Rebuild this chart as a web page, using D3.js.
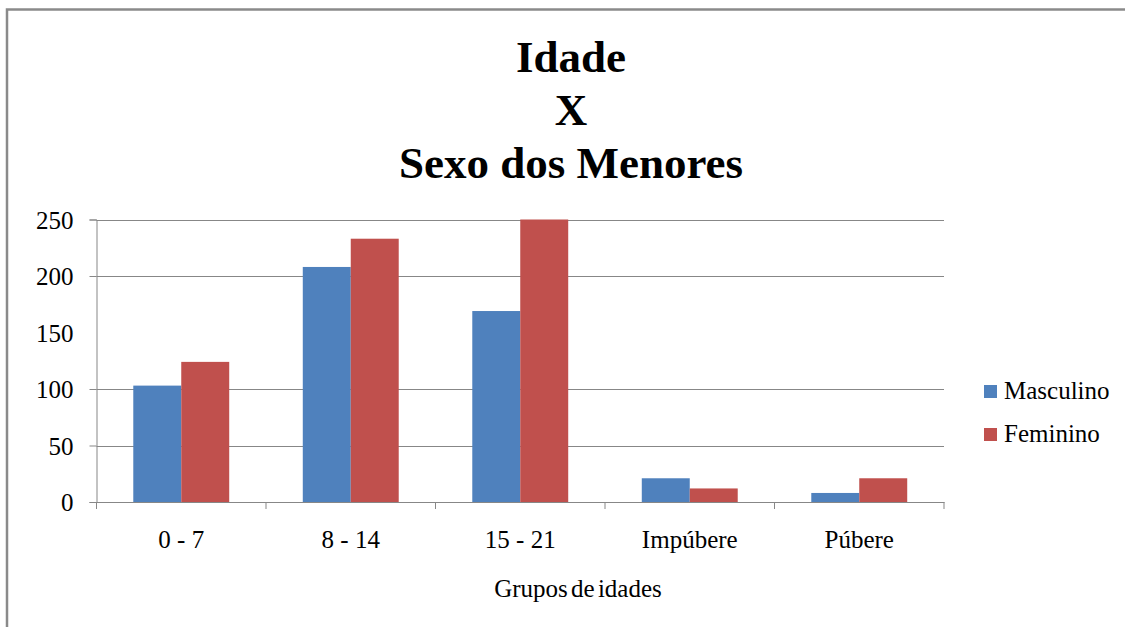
<!DOCTYPE html>
<html>
<head>
<meta charset="utf-8">
<script src="https://cdn.jsdelivr.net/npm/d3@7"></script>
<style>
  body { margin: 0; background: #fff; }
</style>
</head>
<body>
<div id="chart"></div>
<script>
const categories = ["0 - 7", "8 - 14", "15 - 21", "Impúbere", "Púbere"];
const series = ["Masculino", "Feminino"];
const masculino = [103, 208, 169, 21, 8];
const feminino = [124, 233, 250, 12, 21];
const yTicks = [0, 50, 100, 150, 200, 250];
const colors = ["#4F81BD", "#C0504D"];

const width = 1125, height = 627;
const plot = { left: 96.5, right: 944, top: 219.5, bottom: 502 };
const serif = "'Liberation Serif', 'Times New Roman', serif";

const svg = d3.select("#chart")
  .append("svg")
  .attr("width", width)
  .attr("height", height)
  .attr("font-family", serif);

// outer chart border (only top and left visible in the picture)
svg.append("rect")
  .attr("x", 7).attr("y", 9.5)
  .attr("width", 1300).attr("height", 800)
  .attr("fill", "none")
  .attr("stroke", "#8a8a8a")
  .attr("stroke-width", 2.5);

// title
const titleLines = ["Idade", "X", "Sexo dos Menores"];
svg.append("g").selectAll("text")
  .data(titleLines)
  .enter().append("text")
  .attr("x", 571)
  .attr("y", (d, i) => 72 + i * 53)
  .attr("text-anchor", "middle")
  .attr("font-size", 45)
  .attr("font-weight", "bold")
  .text(d => d);

const x0 = d3.scaleBand()
  .domain(categories)
  .range([plot.left, plot.right])
  .padding(0);

const groupW = x0.bandwidth() * 0.566;
const x1 = d3.scaleBand()
  .domain(series)
  .range([(x0.bandwidth() - groupW) / 2, (x0.bandwidth() + groupW) / 2])
  .padding(0);

const y = d3.scaleLinear()
  .domain([0, 250])
  .range([plot.bottom, plot.top]);

// gridlines (the 150 line is missing in the reference image)
const gridValues = yTicks.filter(d => d !== 0 && d !== 150);
svg.append("g")
  .attr("class", "grid")
  .selectAll("line")
  .data(gridValues)
  .enter().append("line")
  .attr("x1", plot.left).attr("x2", plot.right)
  .attr("y1", d => Math.round(y(d)) + 0.5)
  .attr("y2", d => Math.round(y(d)) + 0.5)
  .attr("stroke", "#878787")
  .attr("stroke-width", 1);

// bars
const data = categories.map((c, i) => ({ cat: c, values: [masculino[i], feminino[i]] }));
const groups = svg.append("g").selectAll("g")
  .data(data)
  .enter().append("g")
  .attr("transform", d => `translate(${x0(d.cat)},0)`);

groups.selectAll("rect")
  .data(d => d.values.map((v, i) => ({ key: series[i], value: v, i })))
  .enter().append("rect")
  .attr("x", d => x1(d.key))
  .attr("y", d => y(d.value))
  .attr("width", x1.bandwidth())
  .attr("height", d => y(0) - y(d.value))
  .attr("fill", d => colors[d.i]);

// y axis
const yAxis = d3.axisLeft(y)
  .tickValues(yTicks)
  .tickSize(7)
  .tickPadding(16);
const yg = svg.append("g")
  .attr("transform", `translate(${plot.left},0)`)
  .call(yAxis)
  .attr("font-family", serif)
  .attr("font-size", 25);
yg.select(".domain").attr("stroke", "#878787");
yg.selectAll(".tick line")
  .attr("stroke", "#878787")
  .attr("display", d => d === 150 ? "none" : null);
yg.selectAll(".tick text")
  .attr("fill", "#000")
  .attr("dy", "0.34em");

// x axis
const xg = svg.append("g")
  .attr("transform", `translate(0,${plot.bottom})`)
  .call(d3.axisBottom(x0).tickSize(0).tickPadding(28))
  .attr("font-family", serif)
  .attr("font-size", 25);
xg.select(".domain").attr("stroke", "#878787");
xg.selectAll(".tick text").attr("fill", "#000");

// category separator ticks
const bounds = categories.map(c => x0(c)).concat([plot.right]);
xg.selectAll(".sep")
  .data(bounds)
  .enter().append("line")
  .attr("class", "sep")
  .attr("x1", d => d).attr("x2", d => d)
  .attr("y1", 0).attr("y2", 7)
  .attr("stroke", "#878787");

// x axis title
svg.append("text")
  .attr("x", 578)
  .attr("y", 597)
  .attr("text-anchor", "middle")
  .attr("font-size", 25)
  .style("word-spacing", "-3px")
  .text("Grupos de idades");

// legend
const legend = svg.append("g")
  .attr("transform", "translate(984,385)");
const items = legend.selectAll("g")
  .data(series)
  .enter().append("g")
  .attr("transform", (d, i) => `translate(0,${i * 43})`);
items.append("rect")
  .attr("width", 13).attr("height", 13)
  .attr("fill", (d, i) => colors[i]);
items.append("text")
  .attr("x", 20)
  .attr("y", 14)
  .attr("font-size", 25)
  .text(d => d);
</script>
</body>
</html>
